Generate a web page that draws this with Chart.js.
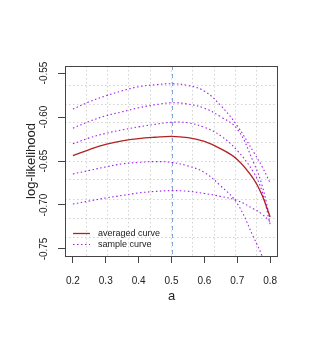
<!DOCTYPE html>
<html>
<head>
<meta charset="utf-8">
<script src="https://cdn.jsdelivr.net/npm/chart.js@4"></script>
<style>
  body { margin: 0; background: #fff; }
  #wrap { width: 311px; height: 338px; }
</style>
</head>
<body>
<div id="wrap"><canvas id="chart" width="311" height="338"></canvas></div>
<script>
// values
const aValues = [0.2, 0.25, 0.3, 0.35, 0.4, 0.45, 0.5, 0.55, 0.6, 0.65, 0.7, 0.75, 0.775, 0.8];
const averaged = [-0.644, -0.637, -0.631, -0.627, -0.6245, -0.623, -0.622, -0.6235, -0.6278, -0.6362, -0.6482, -0.6705, -0.6885, -0.7135];
const sample1 = [-0.591, -0.5827, -0.5759, -0.5702, -0.5656, -0.5633, -0.5622, -0.5641, -0.5705, -0.587, -0.610, -0.640, -0.656, -0.675];
const sample2 = [-0.6127, -0.6049, -0.5986, -0.5941, -0.5895, -0.5861, -0.5838, -0.5853, -0.590, -0.5998, -0.6135, -0.652, -0.677, -0.716];
const sample3 = [-0.6305, -0.6237, -0.6186, -0.6146, -0.6112, -0.6083, -0.606, -0.6066, -0.6117, -0.6214, -0.638, -0.663, -0.684, -0.722];
const sample4 = [-0.6647, -0.6607, -0.6567, -0.6533, -0.6516, -0.6507, -0.6516, -0.6556, -0.663, -0.6784, -0.6983, -0.737, -0.7575, -0.785];
const sample5 = [-0.6989, -0.6955, -0.692, -0.6892, -0.6863, -0.6846, -0.6837, -0.6844, -0.6869, -0.6903, -0.6949, -0.7046, -0.7103, -0.719];
const samples = [sample1, sample2, sample3, sample4, sample5];

const xTicks = [0.2, 0.3, 0.4, 0.5, 0.6, 0.7, 0.8];
const yTicks = [-0.75, -0.70, -0.65, -0.60, -0.55];
const bestA = 0.5;
const xMin = 0.176, xMax = 0.824;
const yMin = -0.758, yMax = -0.542;

const FONT = "'Liberation Sans', Arial, sans-serif";
const RED = '#b22222';
const PURPLE = '#a020f0';

const pts = ys => ys.map((y, i) => ({ x: aValues[i], y }));
// 10 equal cells over the plot range, like grid(10, 10)
const gridVals = (lo, hi) => Array.from({ length: 9 }, (_, i) => ({ value: lo + (i + 1) * (hi - lo) / 10 }));

const datasets = [{
  label: 'averaged curve',
  data: pts(averaged),
  borderColor: RED, borderWidth: 1.3
}].concat(samples.map(s => ({
  label: 'sample curve',
  data: pts(s),
  borderColor: PURPLE, borderWidth: 1.1, borderDash: [1.5, 2.5]
})));

const decor = {
  id: 'decor',
  beforeDatasetsDraw(chart){
    const { ctx, chartArea: ca, scales: { x } } = chart;
    const px = Math.round(x.getPixelForValue(bestA)) + 0.5;
    ctx.save();
    ctx.strokeStyle = 'rgba(90,135,195,0.75)';
    ctx.lineWidth = 1;
    ctx.setLineDash([4, 4]);
    ctx.beginPath();
    ctx.moveTo(px, ca.top);
    ctx.lineTo(px, ca.bottom);
    ctx.stroke();
    ctx.restore();
  },
  afterDraw(chart){
    const { ctx, chartArea: ca, scales: { y } } = chart;
    ctx.save();
    // box
    ctx.strokeStyle = '#444';
    ctx.lineWidth = 1;
    ctx.strokeRect(ca.left + 0.5, ca.top + 0.5, ca.right - ca.left - 1, ca.bottom - ca.top);

    // y tick labels, vertical like R
    ctx.fillStyle = '#222';
    ctx.font = '10px ' + FONT;
    ctx.textAlign = 'center';
    ctx.textBaseline = 'alphabetic';
    yTicks.forEach(v => {
      ctx.save();
      ctx.translate(ca.left - 18.5, y.getPixelForValue(v));
      ctx.rotate(-Math.PI / 2);
      ctx.fillText(v.toFixed(2), 0, 0);
      ctx.restore();
    });

    // axis titles
    ctx.font = '13px ' + FONT;
    ctx.save();
    ctx.translate(ca.left - 30.5, (ca.top + ca.bottom) / 2);
    ctx.rotate(-Math.PI / 2);
    ctx.fillText('log-likelihood', 0, 0);
    ctx.restore();
    ctx.fillText('a', (ca.left + ca.right) / 2, ca.bottom + 44);

    // legend
    ctx.font = '9px ' + FONT;
    ctx.textAlign = 'left';
    ctx.textBaseline = 'middle';
    const lx = ca.left + 8, ly = ca.bottom - 22.5;
    datasets.slice(0, 2).forEach((ds, i) => {
      const yy = ly + i * 11;
      ctx.strokeStyle = ds.borderColor;
      ctx.lineWidth = ds.borderWidth;
      ctx.setLineDash(ds.borderDash || []);
      ctx.beginPath();
      ctx.moveTo(lx, yy);
      ctx.lineTo(lx + 17, yy);
      ctx.stroke();
      ctx.fillStyle = '#222';
      ctx.fillText(ds.label, lx + 25, yy);
    });
    ctx.restore();
  }
};

new Chart(document.getElementById('chart'), {
  type: 'line',
  data: { datasets },
  plugins: [decor],
  options: {
    responsive: false,
    animation: false,
    layout: { padding: { top: 66, right: 33, left: 0, bottom: 0 } },
    elements: { point: { radius: 0 }, line: { tension: 0.4, fill: false } },
    plugins: { legend: { display: false }, tooltip: { enabled: false } },
    scales: {
      x: {
        type: 'linear', position: 'bottom', min: xMin, max: xMax,
        afterBuildTicks: s => { s.ticks = xTicks.map(v => ({ value: v })); },
        afterFit: s => { s.height = 82; },
        ticks: { callback: v => v.toFixed(1), font: { family: FONT, size: 10 }, color: '#222', padding: 12, autoSkip: false, maxRotation: 0 },
        grid: { drawOnChartArea: false, drawTicks: true, tickLength: 7, color: '#444' },
        border: { display: false }
      },
      y: {
        type: 'linear', position: 'left', min: yMin, max: yMax,
        afterBuildTicks: s => { s.ticks = yTicks.map(v => ({ value: v })); },
        afterFit: s => { s.width = 65; },
        ticks: { display: false },
        grid: { drawOnChartArea: false, drawTicks: true, tickLength: 7, color: '#444' },
        border: { display: false }
      },
      gx: {
        type: 'linear', position: 'top', min: xMin, max: xMax,
        afterBuildTicks: s => { s.ticks = gridVals(xMin, xMax); },
        afterFit: s => { s.height = 0; },
        ticks: { display: false },
        grid: { color: '#d3d3d3', lineWidth: 1, drawTicks: false },
        border: { display: false, dash: [1.5, 2.5] }
      },
      gy: {
        type: 'linear', position: 'right', min: yMin, max: yMax,
        afterBuildTicks: s => { s.ticks = gridVals(yMin, yMax); },
        afterFit: s => { s.width = 0; },
        ticks: { display: false },
        grid: { color: '#d3d3d3', lineWidth: 1, drawTicks: false },
        border: { display: false, dash: [1.5, 2.5] }
      }
    }
  }
});
</script>
</body>
</html>
